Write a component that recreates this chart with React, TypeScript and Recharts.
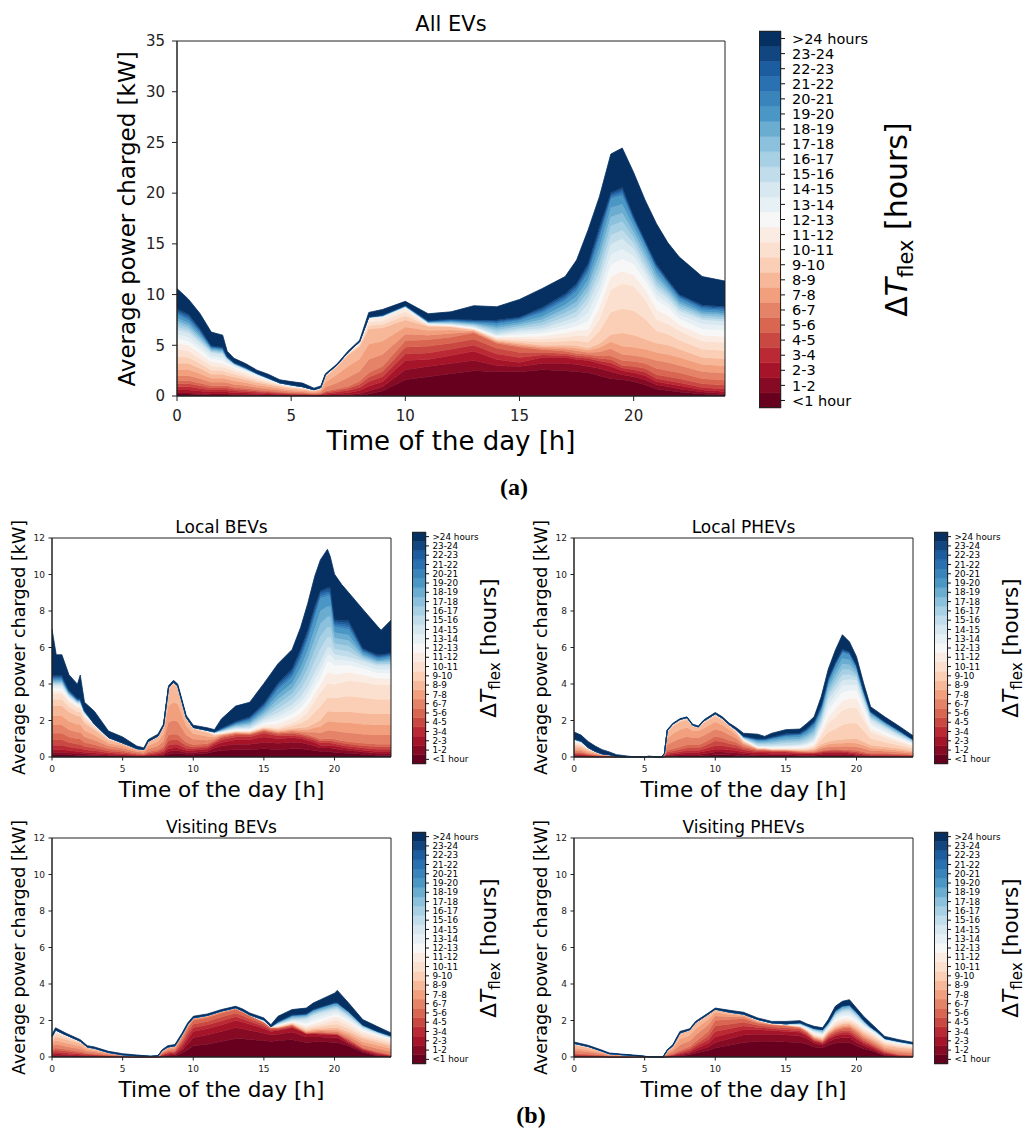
import React from 'react';
import { AreaChart, Area, XAxis, YAxis, ReferenceArea, BarChart, Bar } from 'recharts';

// ---------- labels / ticks ----------
const bandLabels = ['<1 hour', '1-2', '2-3', '3-4', '4-5', '5-6', '6-7', '7-8', '8-9', '9-10', '10-11', '11-12', '12-13', '13-14', '14-15', '15-16', '16-17', '17-18', '18-19', '19-20', '20-21', '21-22', '22-23', '23-24', '>24 hours'];
const xTicks = [0, 5, 10, 15, 20];
const mainYTicks = [0, 5, 10, 15, 20, 25, 30, 35];
const smallYTicks = [0, 2, 4, 6, 8, 10, 12];
const barTicks = bandLabels.map((_, i) => i + 0.5);

// ---------- data: each row = [hour, band <1h, 1-2, ..., 23-24, >24h] (kW) ----------
const allEVsRows: number[][] = [
  [0, .2,.1,.3,.3,.3,.3, .5,.6,.6, .7,.7,.6, .5,.4,.4, .3,.3,.3,.3,.3, .15,.15,.15,.15, 2.0],
  [.5, .2,.1,.3,.3,.3,.3, .5,.6,.6, .6,.6,.6, .4,.4,.4, .25,.25,.25,.25,.25, .15,.15,.15,.15, 1.5],
  [1, .15,.1,.25,.25,.25,.25, .45,.5,.5, .5,.5,.5, .35,.35,.35, .2,.2,.2,.2,.2, .1,.1,.1,.1, 1.5],
  [1.5, .1,.1,.2,.2,.2,.2, .35,.4,.4, .4,.4,.4, .3,.3,.3, .1,.1,.1,.1,.1, .05,.05,.05,.05, 1.35],
  [2, .1,.1,.2,.2,.2,.2, .35,.4,.4, .35,.35,.35, .3,.3,.3, .1,.1,.1,.1,.1, .05,.05,.05,.05, 1.2],
  [2.2, .1,.1,.2,.2,.2,.2, .3,.35,.35, .35,.35,.3, .2,.2,.2, .04,.04,.04,.04,.04, .025,.025,.025,.025, .5],
  [2.5, .08,.08,.17,.17,.17,.17, .3,.35,.35, .3,.3,.3, .13,.13,.13, .02,.02,.02,.02,.02, .02,.02,.02,.02, .4],
  [3, .08,.07,.15,.15,.15,.15, .25,.3,.3, .25,.25,.25, .1,.1,.1, .02,.02,.02,.02,.02, .02,.02,.02,.02, .37],
  [3.5, .06,.06,.12,.12,.12,.12, .22,.25,.25, .2,.2,.2, .08,.08,.08, .01,.01,.01,.01,.01, .01,.01,.01,.01, .3],
  [4, .05,.05,.1,.1,.1,.1, .2,.2,.2, .15,.15,.15, .05,.05,.05, .01,.01,.01,.01,.01, .01,.01,.01,.01, .35],
  [4.5, .04,.04,.08,.08,.08,.08, .17,.17,.17, .1,.1,.1, .03,.03,.03, 0,0,0,0,0, 0,0,0,0, .3],
  [5, .03,.03,.06,.06,.06,.06, .15,.15,.15, .08,.08,.08, .02,.02,.02, .01,.01,.01,.01,.01, 0,0,0,0, .32],
  [5.5, .03,.03,.05,.05,.05,.05, .13,.13,.13, .07,.07,.07, .02,.02,.02, 0,0,0,0,0, 0,0,0,0, .35],
  [6, .02,.02,.04,.04,.04,.04, .1,.1,.1, .03,.03,.03, .01,.01,.01, 0,0,0,0,0, 0,0,0,0, .15],
  [6.3, .02,.02,.05,.05,.05,.05, .15,.15,.15, .04,.04,.04, .01,.01,.01, 0,0,0,0,0, 0,0,0,0, .15],
  [6.5, .03,.03,.1,.1,.1,.1, .4,.5,.5, .08,.08,.08, 0,0,0, 0,0,0,0,0, 0,0,0,0, .1],
  [7, .04,.05,.15,.15,.15,.15, .6,.8,.8, .05,.05,.05, 0,0,0, 0,0,0,0,0, 0,0,0,0, .1],
  [7.5, .05,.08,.2,.2,.2,.2, .9,1.1,1.1, .1,.1,.1, 0,0,0, 0,0,0,0,0, 0,0,0,0, .12],
  [8, .1,.15,.3,.3,.3,.3, 1,1.2,1.2, .15,.15,.15, .02,.02,.02, 0,0,0,0,0, 0,0,0,0, .14],
  [8.4, .2,.3,.45,.45,.45,.45, 1.3,1.5,1.5, .35,.35,.35, .03,.03,.03, .01,.01,.01,.01,.01, 0,0,0,0, .45],
  [9, .5,.4,.5,.5,.5,.5, 1.2,1.3,1.3, .35,.35,.35, .03,.03,.03, .02,.02,.02,.02,.02, .01,.01,.01,.01, .55],
  [10, 1.6,1,.9,.65,.65,.65, .65,.7,.7, .4,.4,.4, .03,.03,.03, .02,.02,.02,.02,.02, .01,.01,.01,.01, .4],
  [11, 1.9,1,.7,.65,.65,.65, .45,.45,.4, .07,.07,.07, .04,.04,.04, .03,.03,.03,.03,.03, .02,.02,.02,.02, .7],
  [12, 2.2,1,.8,.6,.6,.6, .35,.35,.3, .05,.05,.05, .05,.05,.05, .06,.06,.06,.06,.06, .05,.05,.05,.05, .7],
  [13, 2.5,1,.9,.6,.6,.6, .1,.1,.1, .05,.05,.05, .07,.07,.07, .08,.08,.08,.08,.08, .06,.06,.06,.06, 1.4],
  [14, 2.4,.6,.6,.55,.55,.5, .1,.1,.1, .1,.1,.1, .1,.1,.1, .2,.2,.2,.2,.2, .1,.1,.1,.1, 1.3],
  [15, 2.4,.5,.4,.5,.5,.5, .15,.15,.15, .2,.2,.2, .2,.2,.2, .2,.2,.2,.2,.2, .08,.08,.08,.08, 1.75],
  [16, 2.6,.6,.6,.25,.25,.25, .15,.15,.15, .3,.3,.3, .25,.25,.25, .3,.3,.3,.3,.3, .15,.15,.15,.15, 1.85],
  [17, 2.5,.7,.6,.2,.2,.2, .2,.2,.2, .4,.4,.4, .4,.4,.4, .4,.4,.4,.4,.4, .17,.17,.17,.17, 1.7],
  [17.5, 2.4,.7,.5,.2,.2,.2, .25,.25,.25, .5,.5,.5, .45,.45,.45, .5,.5,.5,.5,.5, .2,.2,.2,.2, 2.3],
  [18, 2.3,.6,.6,.2,.2,.2, .2,.2,.2, .6,.6,.6, .85,.85,.85, .6,.6,.6,.6,.6, .25,.25,.25,.25, 3.3],
  [18.5, 2,.7,.5,.25,.25,.25, .4,.4,.4, 1.2,1.2,1.2, .9,.9,.9, .8,.8,.8,.8,.8, .3,.3,.3,.3, 3],
  [19, 1.7,.7,.5,.35,.35,.35, .7,.7,.7, 2.2,2.2,1.3, 1.2,1,1, .9,.9,.9,.9,.9, .15,.15,.15,.15, 3.8],
  [19.5, 1.6,.5,.4,.25,.25,.5, .6,.8,1.3, 2.4,2.5,1.2, 1.2,1,1, .85,.85,.85,.85,.85, .2,.2,.2,.2, 3.9],
  [20, 1.4,.5,.4,.3,.3,.5, .6,.8,1.2, 2.4,2.4,1.1, 1.1,.8,.7, .55,.55,.55,.55,.55, .12,.12,.12,.12, 4.3],
  [20.5, 1.1,.5,.4,.35,.35,.5, .6,.8,1, 2,1.9,1, .9,.6,.5, .5,.5,.5,.5,.5, .08,.08,.08,.08, 4],
  [21, .7,.4,.3,.3,.4,.6, .8,.8,.9, 1.2,1.1,1, 1,.5,.5, .4,.4,.4,.4,.4, .12,.12,.12,.12, 4],
  [21.5, .55,.35,.3,.3,.4,.6, .8,.8,.9, 1.1,1,.8, .8,.45,.4, .3,.3,.3,.3,.3, .1,.1,.1,.1, 3.65],
  [22, .4,.3,.3,.3,.4,.6, .7,.8,.8, .9,.9,.6, .6,.4,.35, .25,.25,.25,.25,.25, .1,.1,.1,.1, 3.7],
  [23, .2,.2,.2,.25,.35,.5, .7,.7,.7, .8,.8,.6, .6,.5,.4, .2,.2,.2,.2,.2, .12,.12,.12,.12, 2.8],
  [24, .1,.15,.2,.25,.35,.5, .7,.7,.7, .8,.8,.6, .6,.5,.4, .2,.2,.2,.2,.2, .12,.12,.12,.12, 2.5],
];

const localBEVRows: number[][] = [
  [0, .15,.1,.15,.25,.3,.35, .45,.5,.55, .35,.3, .15,.15, .1,.1, .06,.06,.06,.06,.06, .05,.05,.05,.05, 2.55],
  [.3, .15,.1,.15,.25,.3,.35, .45,.5,.55, .35,.3, .15,.15, .1,.1, .06,.06,.06,.06,.06, .05,.05,.05,.05, 1.15],
  [.7, .15,.1,.15,.25,.3,.35, .45,.5,.55, .35,.3, .15,.15, .1,.1, .06,.06,.06,.06,.06, .05,.05,.05,.05, 1.15],
  [1.2, .12,.1,.13,.2,.25,.3, .4,.45,.5, .3,.25, .12,.1, .06,.06, .04,.04,.04,.04,.04, .03,.03,.03,.03, .85],
  [1.8, .1,.1,.1,.18,.22,.28, .38,.42,.45, .25,.2, .1,.08, .05,.05, .03,.03,.03,.03,.03, .02,.02,.02,.02, .8],
  [2, .1,.1,.1,.18,.22,.28, .38,.42,.45, .25,.2, .1,.08, .05,.05, .03,.03,.03,.03,.03, .02,.02,.02,.02, 1.3],
  [2.3, .08,.08,.09,.15,.18,.22, .3,.35,.38, .2,.17, .08,.06, .03,.03, .02,.02,.02,.02,.02, .01,.01,.01,.01, .46],
  [3, .07,.07,.08,.12,.15,.18, .25,.28,.3, .12,.1, .04,.03, .01,.01, 0,0,0,0,0, 0,0,0,0, .7],
  [4, .05,.05,.05,.08,.1,.12, .15,.16,.16, .06,.05, .01,.01, .01,.01, 0,0,0,0,0, 0,0,0,0, .35],
  [5, .04,.04,.04,.06,.08,.1, .12,.12,.12, .03,.02, 0,0, 0,0, 0,0,0,0,0, 0,0,0,0, .33],
  [5.5, .03,.03,.03,.05,.06,.08, .1,.1,.1, .02,.02, 0,0, 0,0, 0,0,0,0,0, 0,0,0,0, .23],
  [6, .02,.02,.02,.04,.05,.06, .08,.08,.08, .01,0, 0,0, 0,0, 0,0,0,0,0, 0,0,0,0, .14],
  [6.5, .02,.02,.02,.03,.04,.05, .07,.08,.08, 0,0, 0,0, 0,0, 0,0,0,0,0, 0,0,0,0, .09],
  [6.8, .03,.03,.03,.05,.06,.07, .15,.18,.2, .05,0, 0,0, 0,0, 0,0,0,0,0, 0,0,0,0, .1],
  [7.5, .05,.05,.05,.07,.08,.1, .2,.25,.25, .05,0, 0,0, 0,0, 0,0,0,0,0, 0,0,0,0, .1],
  [7.9, .08,.07,.07,.1,.12,.14, .3,.4,.4, .05,0, 0,0, 0,0, 0,0,0,0,0, 0,0,0,0, .08],
  [8.25, .15,.15,.15,.2,.25,.3, .7,.9,.9, .1,0, 0,0, 0,0, 0,0,0,0,0, 0,0,0,0, .1],
  [8.6, .2,.15,.15,.2,.25,.3, .75,1,1, .1,0, 0,0, 0,0, 0,0,0,0,0, 0,0,0,0, .1],
  [8.9, .2,.15,.15,.2,.25,.3, .7,.95,.9, .1,0, 0,0, 0,0, 0,0,0,0,0, 0,0,0,0, .1],
  [9.5, .15,.1,.1,.12,.15,.18, .4,.5,.4, .08,0, 0,0, 0,0, 0,0,0,0,0, 0,0,0,0, .1],
  [10, .15,.1,.1,.1,.1,.12, .3,.3,.25, .08,0, 0,0, .01,.01, 0,0,0,0,0, 0,0,0,0, .12],
  [11, .2,.12,.1,.1,.1,.1, .2,.2,.2, .06,.04, .01,.01, .01,.01, 0,0,0,0,0, 0,0,0,0, .14],
  [11.5, .3,.2,.15,.1,.08,.07, .1,.1,.08, .04,.03, .02,.02, .02,.02, .01,.01,.01,.01,.01, 0,0,0,0, .12],
  [12, .35,.25,.2,.15,.1,.08, .05,.04,.03, .02,.02, .03,.03, .03,.03, .02,.02,.02,.02,.02, .02,.02,.02,.02, .5],
  [13, .4,.3,.25,.15,.1,.08, .03,.03,.03, .02,.02, .04,.04, .04,.04, .05,.05,.05,.05,.05, .03,.03,.03,.03, .85],
  [14, .4,.3,.25,.15,.1,.05, .03,.03,.03, .03,.03, .05,.05, .05,.05, .08,.08,.08,.08,.08, .05,.05,.05,.05, .8],
  [15, .45,.35,.3,.2,.1,.05, .04,.04,.04, .04,.04, .1,.1, .1,.1, .12,.12,.12,.12,.12, .07,.07,.07,.07, 1.1],
  [16, .4,.35,.25,.15,.1,.05, .05,.05,.05, .08,.08, .2,.2, .2,.2, .25,.25,.25,.25,.25, .1,.1,.1,.1, 1.05],
  [17, .45,.35,.25,.12,.1,.08, .07,.07,.07, .15,.15, .25,.25, .25,.25, .3,.3,.3,.3,.3, .12,.12,.12,.12, 1.05],
  [17.6, .45,.35,.2,.12,.1,.08, .1,.1,.1, .25,.25, .3,.3, .3,.3, .4,.4,.4,.4,.4, .15,.15,.15,.15, 1.2],
  [18.1, .4,.3,.2,.12,.1,.08, .15,.15,.15, .4,.4, .35,.35, .35,.35, .5,.5,.5,.5,.5, .15,.15,.15,.15, 1.45],
  [18.6, .35,.25,.2,.12,.1,.08, .25,.25,.25, .6,.6, .4,.4, .4,.4, .6,.6,.6,.6,.6, .15,.15,.15,.15, 1.65],
  [19, .3,.2,.15,.12,.1,.1, .35,.35,.35, .75,.75, .42,.42, .42,.42, .7,.7,.7,.7,.7, .1,.1,.1,.1, 1.7],
  [19.5, .3,.2,.15,.12,.12,.11, .45,.5,.55, .75,.75, .6,.6, .4,.4, .56,.56,.56,.56,.56, .12,.12,.12,.12, 2.1],
  [19.7, .3,.2,.15,.12,.12,.11, .45,.5,.55, .75,.75, .6,.6, .4,.4, .56,.56,.56,.56,.56, .12,.12,.12,.12, 1.7],
  [20, .25,.2,.15,.13,.12,.12, .45,.5,.55, .75,.75, .55,.5, .3,.3, .3,.3,.3,.3,.3, .1,.1,.1,.1, 2.5],
  [20.5, .22,.18,.13,.12,.12,.12, .48,.52,.58, .8,.8, .5,.45, .28,.25, .3,.3,.3,.3,.3, .11,.11,.11,.11, 1.97],
  [21, .2,.15,.12,.12,.12,.12, .5,.55,.6, .85,.85, .45,.4, .25,.2, .3,.3,.3,.3,.3, .12,.12,.12,.12, 1.55],
  [22, .15,.12,.1,.12,.13,.13, .5,.55,.6, .85,.85, .4,.35, .2,.2, .1,.1,.1,.1,.1, .05,.05,.05,.05, 2.15],
  [23, .1,.1,.1,.12,.14,.14, .5,.55,.6, .8,.8, .35,.3, .2,.2, .08,.08,.08,.08,.08, .05,.05,.05,.05, 1.6],
  [23.3, .1,.1,.1,.12,.14,.14, .5,.55,.6, .8,.8, .35,.3, .2,.2, .08,.08,.08,.08,.08, .05,.05,.05,.05, 1.35],
  [24, .1,.1,.1,.12,.14,.14, .5,.55,.6, .8,.8, .35,.3, .2,.2, .1,.1,.1,.1,.1, .05,.05,.05,.05, 1.8],
];

const localPHEVRows: number[][] = [
  [0, .02,.03,.05,.05,.05,.05, .1,.12,.13, .1,.08, .06,.05, .03,.02, .01,.01,.01,.01,.01, 0,0,0,0, .38],
  [.5, .02,.03,.04,.05,.05,.05, .09,.1,.11, .08,.07, .05,.04, .02,.02, .01,.01,.01,.01,.01, 0,0,0,0, .33],
  [1, .01,.02,.03,.03,.03,.03, .06,.07,.08, .05,.04, .03,.02, .01,.01, 0,0,0,0,0, 0,0,0,0, .33],
  [1.5, .01,.01,.02,.02,.02,.02, .04,.05,.05, .03,.02, .01,.01, 0,0, 0,0,0,0,0, 0,0,0,0, .29],
  [2, .01,.01,.01,.01,.01,.01, .02,.03,.03, .02,.01, 0,0, 0,0, 0,0,0,0,0, 0,0,0,0, .23],
  [2.5, .01,.01,.01,.01,.01,.01, .02,.02,.02, .01,0, 0,0, 0,0, 0,0,0,0,0, 0,0,0,0, .15],
  [3, 0,0,0,0,0,0, .01,.01,.01, 0,0, 0,0, 0,0, 0,0,0,0,0, 0,0,0,0, .1],
  [3.5, 0,0,0,0,0,0, 0,0,0, 0,0, 0,0, 0,0, 0,0,0,0,0, 0,0,0,0, .08],
  [4, 0,0,0,0,0,0, 0,0,0, 0,0, 0,0, 0,0, 0,0,0,0,0, 0,0,0,0, .03],
  [4.5, 0,0,0,0,0,0, 0,0,0, 0,0, 0,0, 0,0, 0,0,0,0,0, 0,0,0,0, .01],
  [5, 0,0,0,0,0,0, 0,0,0, 0,0, 0,0, 0,0, 0,0,0,0,0, 0,0,0,0, 0],
  [5.3, 0,0,0,0,0,0, .01,.01,.01, 0,0, 0,0, 0,0, 0,0,0,0,0, 0,0,0,0, .02],
  [5.7, 0,0,0,0,0,0, 0,0,0, 0,0, 0,0, 0,0, 0,0,0,0,0, 0,0,0,0, .02],
  [6.2, 0,0,0,0,0,0, 0,0,0, 0,0, 0,0, 0,0, 0,0,0,0,0, 0,0,0,0, 0],
  [6.4, .01,.01,.01,.02,.02,.02, .03,.03,.03, 0,0, 0,0, 0,0, 0,0,0,0,0, 0,0,0,0, .02],
  [6.6, .03,.04,.05,.07,.08,.1, .3,.35,.3, .1,.03, 0,0, 0,0, 0,0,0,0,0, 0,0,0,0, .04],
  [7, .04,.05,.06,.08,.1,.12, .38,.45,.4, .1,.03, 0,0, 0,0, 0,0,0,0,0, 0,0,0,0, .04],
  [7.5, .05,.06,.08,.1,.12,.14, .45,.5,.42, .1,.04, 0,0, 0,0, 0,0,0,0,0, 0,0,0,0, .04],
  [8, .06,.08,.1,.12,.14,.16, .45,.5,.42, .1,.03, 0,0, 0,0, 0,0,0,0,0, 0,0,0,0, .04],
  [8.4, .06,.08,.1,.12,.14,.16, .38,.38,.25, .08,0, 0,0, 0,0, 0,0,0,0,0, 0,0,0,0, .05],
  [8.8, .06,.08,.1,.12,.14,.16, .38,.38,.15, .08,0, 0,0, 0,0, 0,0,0,0,0, 0,0,0,0, .05],
  [9.2, .08,.1,.12,.14,.16,.18, .4,.4,.3, .1,0, 0,0, 0,0, 0,0,0,0,0, 0,0,0,0, .06],
  [10, .12,.15,.15,.2,.25,.25, .4,.4,.3, .15,0, 0,0, 0,0, 0,0,0,0,0, 0,0,0,0, .07],
  [10.5, .12,.15,.15,.2,.22,.22, .35,.35,.25, .12,0, 0,0, 0,0, 0,0,0,0,0, 0,0,0,0, .07],
  [11, .12,.13,.13,.17,.18,.18, .3,.28,.2, .08,0, 0,0, 0,0, 0,0,0,0,0, 0,0,0,0, .08],
  [11.5, .1,.12,.12,.15,.15,.15, .22,.2,.15, .06,.03, .01,.01, .01,.01, 0,0,0,0,0, 0,0,0,0, .11],
  [12, .08,.1,.1,.1,.1,.1, .1,.08,.06, .04,.03, .03,.03, .03,.03, .02,.02,.02,.02,.02, .01,.01,.01,.01, .15],
  [13, .06,.08,.08,.06,.06,.05, .03,.02,.02, .02,.02, .03,.03, .03,.03, .06,.06,.06,.06,.06, .02,.02,.02,.02, .25],
  [13.5, .06,.08,.08,.06,.06,.05, .03,.02,.02, .02,.02, .03,.03, .03,.03, .06,.06,.06,.06,.06, .02,.02,.02,.02, .13],
  [14, .05,.08,.08,.06,.05,.03, .02,.02,.02, .02,.02, .04,.04, .04,.04, .08,.08,.08,.08,.08, .02,.02,.02,.02, .21],
  [15, .05,.08,.08,.06,.05,.03, .02,.02,.02, .02,.02, .05,.05, .05,.05, .1,.1,.1,.1,.1, .03,.03,.03,.03, .23],
  [16, .04,.06,.06,.05,.04,.03, .03,.03,.03, .04,.04, .06,.06, .06,.06, .1,.1,.1,.1,.1, .03,.03,.03,.03, .22],
  [16.5, .04,.06,.06,.04,.03,.03, .04,.04,.04, .05,.05, .08,.08, .08,.08, .12,.12,.12,.12,.12, .04,.04,.04,.04, .29],
  [17, .04,.06,.06,.04,.03,.03, .06,.06,.06, .08,.08, .1,.1, .1,.1, .15,.15,.15,.15,.15, .05,.05,.05,.05, .25],
  [17.5, .05,.08,.08,.05,.04,.04, .12,.12,.12, .25,.25, .17,.17, .17,.17, .15,.15,.15,.15,.15, .05,.05,.05,.05, .47],
  [18, .06,.08,.1,.06,.05,.05, .15,.15,.15, .5,.5, .35,.35, .3,.3, .2,.2,.2,.2,.2, .04,.04,.04,.04, .5],
  [18.5, .06,.08,.1,.07,.06,.05, .15,.17,.18, .6,.65, .45,.45, .3,.3, .27,.27,.27,.27,.27, .04,.04,.04,.04, .67],
  [19, .06,.08,.1,.06,.05,.05, .17,.18,.2, .8,.8, .5,.5, .35,.3, .3,.3,.3,.3,.3, .05,.05,.05,.05, .8],
  [19.5, .05,.07,.08,.06,.06,.06, .2,.2,.22, .85,.85, .5,.45, .3,.3, .27,.27,.27,.27,.27, .04,.04,.04,.04, .55],
  [20, .03,.05,.06,.06,.07,.08, .2,.2,.25, .85,.85, .5,.45, .3,.25, .15,.15,.15,.15,.15, .02,.02,.02,.02, .47],
  [20.5, .02,.03,.05,.05,.06,.07, .18,.18,.2, .6,.6, .35,.3, .2,.2, .1,.1,.1,.1,.1, .02,.02,.02,.02, .38],
  [21, .01,.02,.03,.04,.05,.05, .15,.15,.15, .35,.35, .2,.2, .15,.15, .08,.08,.08,.08,.08, .01,.01,.01,.01, .26],
  [22, .01,.02,.03,.04,.05,.05, .12,.12,.12, .25,.25, .15,.15, .12,.12, .06,.06,.06,.06,.06, .01,.01,.01,.01, .26],
  [23, .01,.02,.02,.03,.04,.04, .1,.1,.1, .18,.18, .1,.1, .08,.08, .05,.05,.05,.05,.05, .01,.01,.01,.01, .23],
  [24, .01,.01,.02,.02,.03,.03, .07,.07,.07, .12,.12, .07,.07, .05,.05, .03,.03,.03,.03,.03, 0,0,0,0, .21],
];

const visitingBEVRows: number[][] = [
  [0, .03,.05,.06,.08,.09,.1, .15,.15,.15, .1,.08,.03, .02,.01,.01, 0,0,0,0,0, 0,0,0,0, .11],
  [.25, .04,.06,.08,.1,.1,.12, .2,.2,.2, .14,.12,.05, .03,.02,.02, 0,0,0,0,0, 0,0,0,0, .12],
  [1, .03,.05,.06,.08,.09,.1, .17,.18,.18, .12,.1,.03, .02,0,0, 0,0,0,0,0, 0,0,0,0, .09],
  [2, .02,.03,.04,.06,.07,.08, .14,.15,.15, .08,.05,0, 0,0,0, 0,0,0,0,0, 0,0,0,0, .08],
  [2.5, .02,.02,.03,.04,.05,.05, .1,.1,.1, .04,0,0, 0,0,0, 0,0,0,0,0, 0,0,0,0, .07],
  [3, .02,.02,.02,.03,.04,.05, .09,.09,.09, .03,0,0, 0,0,0, 0,0,0,0,0, 0,0,0,0, .07],
  [4, .01,.01,.01,.02,.02,.03, .05,.05,.05, 0,0,0, 0,0,0, 0,0,0,0,0, 0,0,0,0, .06],
  [5, .01,.01,.01,.01,.01,.01, .02,.02,.02, 0,0,0, 0,0,0, 0,0,0,0,0, 0,0,0,0, .06],
  [6, 0,0,0,.01,.01,.01, .01,.01,.01, 0,0,0, 0,0,0, 0,0,0,0,0, 0,0,0,0, .05],
  [7, 0,0,0,0,0,0, .01,.01,.01, 0,0,0, 0,0,0, 0,0,0,0,0, 0,0,0,0, .01],
  [7.5, 0,0,0,0,0,0, .02,.02,.02, 0,0,0, 0,0,0, 0,0,0,0,0, 0,0,0,0, .01],
  [7.8, .02,.02,.03,.03,.04,.05, .06,.06,.05, 0,0,0, 0,0,0, 0,0,0,0,0, 0,0,0,0, .04],
  [8.2, .05,.05,.05,.05,.06,.07, .08,.08,.06, 0,0,0, 0,0,0, 0,0,0,0,0, 0,0,0,0, .07],
  [8.7, .06,.06,.06,.06,.06,.07, .09,.09,.06, 0,0,0, 0,0,0, 0,0,0,0,0, 0,0,0,0, .07],
  [9.2, .2,.15,.15,.15,.15,.15, .12,.1,.05, 0,0,0, 0,0,0, 0,0,0,0,0, 0,0,0,0, .08],
  [9.6, .4,.3,.25,.2,.2,.2, .1,.08,.05, 0,0,0, 0,0,0, 0,0,0,0,0, 0,0,0,0, .08],
  [10, .6,.45,.35,.2,.2,.2, .07,.05,.03, 0,0,0, 0,0,0, 0,0,0,0,0, 0,0,0,0, .08],
  [11, .7,.5,.35,.2,.2,.2, .06,.04,.03, 0,0,0, 0,0,0, 0,0,0,0,0, 0,0,0,0, .08],
  [12, .85,.55,.35,.22,.22,.21, .05,.04,.03, 0,0,0, 0,0,0, 0,0,0,0,0, 0,0,0,0, .08],
  [13, 1,.6,.4,.2,.2,.2, .04,.03,.03, 0,0,0, 0,0,0, 0,0,0,0,0, 0,0,0,0, .08],
  [13.5, 1,.55,.35,.18,.18,.18, .03,.03,.03, 0,0,0, 0,0,0, 0,0,0,0,0, 0,0,0,0, .1],
  [14, .95,.5,.35,.15,.15,.15, .02,.02,.02, 0,0,0, 0,0,0, 0,0,0,0,0, 0,0,0,0, .1],
  [15, .9,.4,.25,.12,.12,.11, .01,.01,.01, .01,.01,.01, .01,.01,.01, .01,.01,.01,.01,.01, 0,0,0,0, .1],
  [15.5, .85,.35,.2,.07,.07,.06, .01,.01,.01, .01,.01,.01, 0,0,0, 0,0,0,0,0, 0,0,0,0, .11],
  [16, .9,.35,.2,.05,.05,.05, .01,.01,.01, .03,.03,.03, .03,.03,.03, .02,.02,.02,.02,.02, .01,.01,.01,.01, .28],
  [17, .95,.4,.25,.05,.05,.05, .02,.02,.02, .04,.04,.04, .03,.03,.03, .05,.05,.05,.05,.05, .01,.01,.01,.01, .29],
  [18, .8,.3,.2,0,0,0, .05,.05,.05, .08,.08,.08, .13,.13,.13, .05,.05,.05,.05,.05, .01,.01,.01,.01, .31],
  [18.5, .82,.28,.18,.02,.02,.02, .06,.06,.06, .1,.1,.1, .15,.15,.15, .06,.06,.06,.06,.06, .01,.01,.01,.01, .35],
  [19, .85,.25,.15,.03,.03,.04, .07,.07,.07, .12,.12,.12, .16,.16,.16, .06,.06,.06,.06,.06, .01,.01,.01,.01, .4],
  [20, .8,.25,.15,.03,.03,.04, .1,.1,.1, .2,.2,.2, .13,.13,.13, .07,.07,.07,.07,.07, .01,.01,.01,.01, .52],
  [20.2, .8,.25,.15,.03,.03,.04, .1,.1,.1, .2,.2,.2, .13,.13,.13, .07,.07,.07,.07,.07, .01,.01,.01,.01, .67],
  [21, .6,.12,.08,.06,.07,.07, .13,.13,.13, .17,.17,.17, .1,.1,.1, .06,.06,.06,.06,.06, 0,0,0,0, .46],
  [22, .25,.08,.06,.04,.04,.03, .17,.17,.17, .13,.13,.13, .07,.07,.07, .03,.03,.03,.03,.03, 0,0,0,0, .29],
  [23, .05,.05,.05,.05,.05,.05, .17,.17,.17, .12,.12,.12, .05,.05,.05, .02,.02,.02,.02,.02, 0,0,0,0, .26],
  [24, .01,.02,.02,.02,.03,.03, .16,.16,.16, .11,.11,.11, .04,.04,.04, .02,.02,.02,.02,.02, 0,0,0,0, .16],
];

const visitingPHEVRows: number[][] = [
  [0, .01,.02,.03,.04,.05,.05, .15,.15,.15, .06,.04,0, 0,0,0, 0,0,0,0,0, 0,0,0,0, .07],
  [1, .01,.01,.02,.03,.04,.04, .12,.12,.12, .04,.03,0, 0,0,0, 0,0,0,0,0, 0,0,0,0, .06],
  [2, .01,.01,.01,.02,.02,.02, .07,.07,.07, .02,0,0, 0,0,0, 0,0,0,0,0, 0,0,0,0, .05],
  [2.5, 0,0,0,.01,.01,.01, .05,.05,.05, 0,0,0, 0,0,0, 0,0,0,0,0, 0,0,0,0, .04],
  [3.5, 0,0,0,.01,.01,.01, .03,.03,.03, 0,0,0, 0,0,0, 0,0,0,0,0, 0,0,0,0, .03],
  [4.5, 0,0,0,0,0,0, .02,.02,.02, 0,0,0, 0,0,0, 0,0,0,0,0, 0,0,0,0, .03],
  [5, 0,0,0,0,0,0, .01,.01,.01, 0,0,0, 0,0,0, 0,0,0,0,0, 0,0,0,0, .01],
  [5.5, 0,0,0,0,0,0, 0,0,0, 0,0,0, 0,0,0, 0,0,0,0,0, 0,0,0,0, .01],
  [6.3, 0,0,0,0,0,0, 0,0,0, 0,0,0, 0,0,0, 0,0,0,0,0, 0,0,0,0, 0],
  [6.6, .01,.01,.01,.02,.02,.03, .08,.09,.09, 0,0,0, 0,0,0, 0,0,0,0,0, 0,0,0,0, .04],
  [7, .02,.02,.02,.03,.04,.05, .14,.15,.15, 0,0,0, 0,0,0, 0,0,0,0,0, 0,0,0,0, .06],
  [7.5, .05,.05,.05,.06,.07,.08, .3,.33,.33, 0,0,0, 0,0,0, 0,0,0,0,0, 0,0,0,0, .08],
  [8.2, .12,.08,.08,.08,.1,.12, .3,.3,.3, .02,0,0, 0,0,0, 0,0,0,0,0, 0,0,0,0, .05],
  [8.6, .2,.12,.12,.12,.13,.15, .35,.35,.3, .05,0,0, 0,0,0, 0,0,0,0,0, 0,0,0,0, .06],
  [9.5, .35,.2,.2,.2,.2,.25, .35,.3,.25, .05,0,0, 0,0,0, 0,0,0,0,0, 0,0,0,0, .06],
  [10, .5,.3,.3,.3,.3,.3, .25,.2,.15, .02,0,0, 0,0,0, 0,0,0,0,0, 0,0,0,0, .06],
  [11, .65,.35,.3,.25,.25,.25, .15,.12,.1, .04,0,0, 0,0,0, 0,0,0,0,0, 0,0,0,0, .1],
  [12, .8,.4,.3,.2,.2,.2, .1,.08,.07, 0,0,0, 0,0,0, 0,0,0,0,0, 0,0,0,0, .1],
  [13, .85,.4,.25,.12,.12,.11, .06,.05,.04, .01,.01,.01, .01,.01,.01, 0,0,0,0,0, 0,0,0,0, .08],
  [14, .85,.4,.2,.1,.1,.1, .02,.02,.02, .01,.01,.01, .01,.01,.01, 0,0,0,0,0, 0,0,0,0, .08],
  [15, .82,.38,.2,.1,.1,.1, .02,.02,.02, .01,.01,.01, .01,.01,.01, 0,0,0,0,0, 0,0,0,0, .13],
  [16, .8,.35,.2,.08,.09,.08, .02,.02,.02, .02,.02,.02, .02,.02,.02, .02,.02,.02,.02,.02, 0,0,0,0, .11],
  [16.5, .7,.3,.15,.07,.07,.06, .03,.03,.03, .03,.03,.03, .03,.03,.03, .02,.02,.02,.02,.02, 0,0,0,0, .09],
  [17, .55,.2,.1,.05,.05,.05, .04,.04,.04, .05,.05,.05, .05,.05,.05, .03,.03,.03,.03,.03, 0,0,0,0, .11],
  [17.6, .5,.15,.08,.04,.04,.04, .05,.05,.05, .05,.05,.05, .05,.05,.05, .04,.04,.04,.04,.04, 0,0,0,0, .1],
  [18, .65,.2,.12,.08,.08,.07, .06,.06,.06, .05,.05,.05, .05,.05,.05, .04,.04,.04,.04,.04, 0,0,0,0, .17],
  [18.5, .75,.25,.15,.1,.1,.1, .07,.07,.07, .1,.1,.1, .1,.1,.1, .05,.05,.05,.05,.05, .01,.01,.01,.01, .23],
  [19, .8,.25,.2,.1,.1,.12, .08,.08,.08, .1,.1,.1, .12,.12,.12, .06,.06,.06,.06,.06, .01,.01,.01,.01, .24],
  [19.5, .8,.25,.2,.1,.12,.13, .08,.08,.08, .09,.09,.09, .13,.13,.13, .07,.07,.07,.07,.07, 0,0,0,0, .29],
  [20, .6,.2,.17,.1,.12,.13, .1,.1,.1, .1,.1,.1, .1,.1,.1, .05,.05,.05,.05,.05, 0,0,0,0, .21],
  [20.5, .45,.15,.12,.09,.1,.1, .1,.1,.1, .1,.1,.1, .07,.07,.07, .04,.04,.04,.04,.04, 0,0,0,0, .21],
  [21, .35,.1,.1,.08,.08,.09, .1,.1,.1, .1,.1,.1, .05,.05,.05, .02,.02,.02,.02,.02, 0,0,0,0, .21],
  [21.5, .2,.08,.08,.07,.07,.08, .1,.1,.1, .09,.09,.09, .04,.04,.04, .02,.02,.02,.02,.02, 0,0,0,0, .13],
  [22, .08,.05,.05,.05,.05,.06, .1,.1,.1, .08,.08,.08, .03,.03,.03, .01,.01,.01,.01,.01, 0,0,0,0, .11],
  [23, .01,.02,.02,.03,.03,.04, .12,.12,.12, .07,.07,.07, .03,.03,.03, .01,.01,.01,.01,.01, 0,0,0,0, .09],
  [24, .01,.01,.01,.02,.03,.03, .11,.11,.11, .06,.06,.06, .02,.02,.02, .01,.01,.01,.01,.01, 0,0,0,0, .07],
];

// ---------- colours (RdBu) ----------
const RDBU = ['#67001f', '#b2182b', '#d6604d', '#f4a582', '#fddbc7', '#f7f7f7', '#d1e5f0', '#92c5de', '#4393c3', '#2166ac', '#053061'];
function hexToRgb(h: string) {
  return [1, 3, 5].map((i) => parseInt(h.slice(i, i + 2), 16));
}
function rdbu(v: number) {
  const p = v * 10;
  const i = Math.min(9, Math.floor(p));
  const f = p - i;
  const a = hexToRgb(RDBU[i]);
  const b = hexToRgb(RDBU[i + 1]);
  const c = a.map((x, k) => Math.round(x + (b[k] - x) * f));
  return `rgb(${c.join(',')})`;
}
const bandColors = bandLabels.map((_, i) => rdbu(i / 24));

const FONT = "'DejaVu Sans', sans-serif";

type PanelProps = {
  rows: number[][];
  px: number; py: number; pw: number; ph: number;
  yMax: number; yTicks: number[];
  fs: number; tl: number; tm: number; xtm: number;
};

function Panel(p: PanelProps) {
  const data = p.rows.map((r) => {
    const o: Record<string, number> = { t: r[0] };
    for (let i = 0; i < 25; i++) o['b' + i] = r[i + 1] ?? 0;
    return o;
  });
  const L = 60, T = 10, R = 10, XH = 40;
  return (
    <div style={{ position: 'absolute', left: p.px - L, top: p.py - T }}>
      <AreaChart width={p.pw + L + R} height={p.ph + T + XH} data={data}
        margin={{ top: T, right: R, bottom: 0, left: L - 50 }}>
        <XAxis dataKey="t" type="number" domain={[0, 24]} ticks={xTicks} interval={0} height={XH}
          tickSize={p.tl} tickMargin={p.xtm} stroke="#222"
          tick={{ fontSize: p.fs, fill: '#222', fontFamily: FONT }} />
        <YAxis type="number" domain={[0, p.yMax]} ticks={p.yTicks} interval={0} width={50}
          tickSize={p.tl} tickMargin={p.tm} stroke="#222"
          tick={{ fontSize: p.fs, fill: '#222', fontFamily: FONT }} />
        {bandColors.map((c, i) => (
          <Area key={i} type="linear" dataKey={'b' + i} stackId="s" stroke={c} strokeWidth={0.8}
            fill={c} fillOpacity={1} dot={false} activeDot={false} isAnimationActive={false} />
        ))}
        <ReferenceArea x1={0} x2={24} y1={0} y2={p.yMax} fill="none" fillOpacity={0}
          stroke="#222" strokeWidth={1} ifOverflow="visible" />
      </AreaChart>
    </div>
  );
}

type CBProps = { x: number; y: number; w: number; h: number; fs: number; tl: number; tm: number };
function ColorBar({ x, y, w, h, fs, tl, tm }: CBProps) {
  const row: Record<string, number | string> = { name: 'cb' };
  bandLabels.forEach((_, i) => { row['c' + i] = 1; });
  const LW = 120;
  const PAD = 12;
  return (
    <div style={{ position: 'absolute', left: x, top: y - PAD }}>
      <BarChart width={w + LW} height={h + 2 * PAD} data={[row]} margin={{ top: PAD, right: 0, bottom: PAD, left: 0 }}
        barCategoryGap={0} barGap={0}>
        <XAxis dataKey="name" hide />
        <YAxis orientation="right" type="number" domain={[0, 25]} ticks={barTicks} interval={0} width={LW}
          tickSize={tl} tickMargin={tm} axisLine={false} stroke="#111"
          tick={{ fontSize: fs, fill: '#000', fontFamily: FONT }}
          tickFormatter={(v: number) => bandLabels[Math.floor(v)]} />
        {bandColors.map((c, i) => (
          <Bar key={i} dataKey={'c' + i} stackId="c" fill={c} stroke={c} strokeWidth={0.5} isAnimationActive={false} />
        ))}
      </BarChart>
      <div style={{ position: 'absolute', left: 0, top: PAD, width: w, height: h, border: '1px solid #222', boxSizing: 'border-box' }} />
    </div>
  );
}

function FlexLabel({ x, y, fs }: { x: number; y: number; fs: number }) {
  const sub = fs * 0.2;
  return (
    <text transform={`translate(${x},${y}) rotate(-90)`} textAnchor="middle" fontSize={fs} fill="#000"
      style={{ whiteSpace: 'pre' }}>
      <tspan>Δ</tspan>
      <tspan fontStyle="italic">T</tspan>
      <tspan fontSize={fs * 0.7} dy={sub}>flex</tspan>
      <tspan dy={-sub}>{' [hours]'}</tspan>
    </text>
  );
}

const smallPanels = [
  { title: 'Local BEVs', rows: localBEVRows, px: 52, py: 538 },
  { title: 'Local PHEVs', rows: localPHEVRows, px: 574, py: 538 },
  { title: 'Visiting BEVs', rows: visitingBEVRows, px: 52, py: 838 },
  { title: 'Visiting PHEVs', rows: visitingPHEVRows, px: 574, py: 838 },
];
const PW = 339, PH = 219;

export default function App() {
  return (
    <div style={{ position: 'absolute', left: 0, top: 0, width: 1030, height: 1137, background: '#fff', fontFamily: FONT, overflow: 'hidden' }}>
      <Panel rows={allEVsRows} px={177} py={41} pw={548} ph={355} yMax={35} yTicks={mainYTicks}
        fs={15} tl={5} tm={7} xtm={9} />
      <ColorBar x={759} y={31} w={22} h={377} fs={14.5} tl={4} tm={7} />

      {smallPanels.map((s) => (
        <React.Fragment key={s.title}>
          <Panel rows={s.rows} px={s.px} py={s.py} pw={PW} ph={PH} yMax={12} yTicks={smallYTicks}
            fs={9} tl={3.5} tm={3.5} xtm={5.5} />
          <ColorBar x={s.px + 360} y={s.py - 6} w={14} h={232} fs={8.8} tl={3} tm={3.5} />
        </React.Fragment>
      ))}

      <svg width={1030} height={1137} style={{ position: 'absolute', left: 0, top: 0, pointerEvents: 'none' }}
        fontFamily={FONT}>
        <text x={451} y={31} fontSize={21} textAnchor="middle" fill="#000">All EVs</text>
        <text transform="translate(135,219) rotate(-90)" fontSize={23} textAnchor="middle" fill="#000">Average power charged [kW]</text>
        <text x={451} y={450} fontSize={26} textAnchor="middle" fill="#000">Time of the day [h]</text>
        <FlexLabel x={907} y={219.5} fs={30} />
        <text x={514} y={495} fontSize={24} fontWeight="bold" fontFamily="'Liberation Serif', serif" textAnchor="middle" fill="#000">(a)</text>

        {smallPanels.map((s) => (
          <g key={s.title}>
            <text x={s.px + PW / 2} y={s.py - 5.5} fontSize={17} textAnchor="middle" fill="#000">{s.title}</text>
            <text transform={`translate(${s.px - 27},${s.py + PH / 2}) rotate(-90)`} fontSize={17.5} textAnchor="middle" fill="#000">Average power charged [kW]</text>
            <text x={s.px + PW / 2} y={s.py + PH + 39.5} fontSize={21.5} textAnchor="middle" fill="#000">Time of the day [h]</text>
            <FlexLabel x={s.px + 444} y={s.py + 110} fs={21.5} />
          </g>
        ))}

        <text x={531} y={1123} fontSize={24} fontWeight="bold" fontFamily="'Liberation Serif', serif" textAnchor="middle" fill="#000">(b)</text>
      </svg>
    </div>
  );
}
